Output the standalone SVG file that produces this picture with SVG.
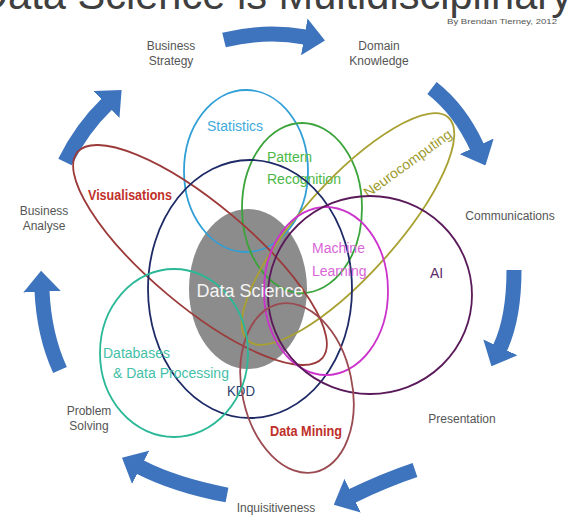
<svg xmlns="http://www.w3.org/2000/svg" width="576" height="519" viewBox="0 0 576 519">
<defs>
<style>
.lbl{font-family:"Liberation Sans",Arial,sans-serif;font-size:12px;fill:#555;text-anchor:middle}
.ring{fill:none;stroke-width:1.8}
.ctext{font-family:"Liberation Sans",Arial,sans-serif;font-size:14px}
.arr{fill:none;stroke:#3d74bd;stroke-width:15;marker-end:url(#ah)}
</style>
<marker id="ah" viewBox="0 0 14 25" refX="0.5" refY="12.5" markerUnits="strokeWidth" markerWidth="1.4" markerHeight="2.5" orient="auto">
<path d="M0,0 L14,12.5 L0,25z" fill="#3d74bd"/>
</marker>
</defs>
<rect width="576" height="519" fill="#fff"/>
<text x="-22" y="9" font-family="'Liberation Sans',Arial,sans-serif" font-size="42" fill="#3f3f3f" textLength="594" lengthAdjust="spacingAndGlyphs">Data Science is Multidisciplinary</text>
<text x="447" y="24" font-family="'Liberation Sans',Arial,sans-serif" font-size="8" fill="#555" textLength="110" lengthAdjust="spacingAndGlyphs">By Brendan Tierney, 2012</text>

<g id="connectors">
<path class="arr" d="M224,40 Q265,30 305,37"/>
<path class="arr" d="M432,88 Q460,110 477,147"/>
<path class="arr" d="M514,270 Q514,318 500,348"/>
<path class="arr" d="M415,470 Q385,480 352,496"/>
<path class="arr" d="M227,495 Q175,485 140,467"/>
<path class="arr" d="M60,370 Q44,335 42,291"/>
<path class="arr" d="M65,162 Q82,128 107,104"/>
</g>

<g id="business-strategy"><text class="lbl" x="171" y="50">Business</text><text class="lbl" x="171" y="65">Strategy</text></g>
<g id="domain-knowledge"><text class="lbl" x="379" y="50">Domain</text><text class="lbl" x="379" y="65">Knowledge</text></g>
<g id="communications"><text class="lbl" x="510" y="220">Communications</text></g>
<g id="presentation"><text class="lbl" x="462" y="423">Presentation</text></g>
<g id="inquisitiveness"><text class="lbl" x="276" y="512">Inquisitiveness</text></g>
<g id="problem-solving"><text class="lbl" x="89" y="415">Problem</text><text class="lbl" x="89" y="430">Solving</text></g>
<g id="business-analyse"><text class="lbl" x="44" y="215">Business</text><text class="lbl" x="44" y="230">Analyse</text></g>

<g id="data-science"><ellipse cx="248" cy="289" rx="59" ry="80" fill="#8c8c8c"/></g>

<g id="statistics"><ellipse class="ring" cx="246" cy="171" rx="62" ry="81" stroke="#2f9fd6"/>
<text class="ctext" x="207" y="131" font-size="15" fill="#3fa9dc">Statistics</text></g>
<g id="pattern-recognition"><ellipse class="ring" cx="302" cy="208" rx="60" ry="85" stroke="#3aa33a"/>
<text class="ctext" x="267" y="162" fill="#4cb848">Pattern</text><text class="ctext" x="267" y="184" fill="#4cb848">Recognition</text></g>
<g id="neurocomputing"><ellipse class="ring" cx="348" cy="229" rx="150" ry="47" transform="rotate(-48 348 229)" stroke="#a8a030"/>
<text class="ctext" x="368" y="198" font-size="13.5" fill="#9e9a2e" textLength="105" lengthAdjust="spacingAndGlyphs" transform="rotate(-36 368 198)">Neurocomputing</text></g>
<g id="visualisations"><ellipse class="ring" cx="200" cy="255" rx="160" ry="51" transform="rotate(40 200 255)" stroke="#9c3a3a"/>
<text class="ctext" x="88" y="200" font-weight="bold" fill="#c0302a" textLength="84" lengthAdjust="spacingAndGlyphs">Visualisations</text></g>
<g id="kdd"><ellipse class="ring" cx="250" cy="289" rx="102" ry="129" stroke="#1e2a66"/>
<text class="ctext" x="227" y="396" fill="#2d3f70" textLength="28" lengthAdjust="spacingAndGlyphs">KDD</text></g>
<g id="machine-learning"><ellipse class="ring" cx="326" cy="291" rx="62" ry="84" stroke="#cc33cc"/>
<text class="ctext" x="312" y="253" fill="#d866d8">Machine</text><text class="ctext" x="312" y="276" fill="#d866d8">Learning</text></g>
<g id="ai"><ellipse class="ring" cx="370" cy="295" rx="102" ry="99" stroke="#5a1a5a"/>
<text class="ctext" x="430" y="278" font-size="15" fill="#5b2a6b">AI</text></g>
<g id="data-mining"><ellipse class="ring" cx="297" cy="388" rx="55" ry="86" transform="rotate(-12 297 388)" stroke="#9a4a50"/>
<text class="ctext" x="270" y="436" font-weight="bold" fill="#c0302a" textLength="72" lengthAdjust="spacingAndGlyphs">Data Mining</text></g>
<g id="databases"><ellipse class="ring" cx="174" cy="353" rx="74" ry="84" stroke="#2ab896"/>
<text class="ctext" x="103" y="358" fill="#45c0a8">Databases</text><text class="ctext" x="113" y="378" fill="#45c0a8">&amp; Data Processing</text></g>

<text x="250" y="297" font-family="'Liberation Sans',Arial,sans-serif" font-size="18" fill="#f4f4f4" text-anchor="middle">Data Science</text>
</svg>
